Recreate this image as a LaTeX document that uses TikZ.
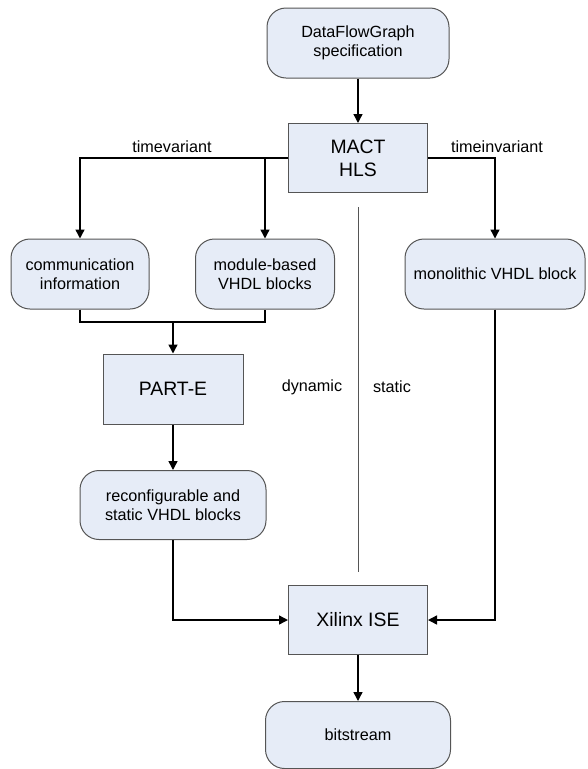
\documentclass[tikz,border=0pt]{standalone}
\usepackage{fontspec}
\setmainfont{Liberation Sans}
\usetikzlibrary{arrows.meta}
\definecolor{boxfill}{RGB}{230,236,247}
\definecolor{boxline}{RGB}{85,85,85}
\tikzset{
    flowline/.style={line width=1.4pt, black, -{Triangle[length=9pt,width=9pt]}},
    plainline/.style={line width=1.4pt, black},
    toolbox/.style={draw=boxline, line width=1pt, fill=boxfill, inner sep=0pt,
        minimum width=139pt, minimum height=69pt, align=center,
        font=\fontsize{19.4}{23}\selectfont},
    databox/.style={draw=boxline, line width=1pt, fill=boxfill, inner sep=0pt,
        rounded corners=19pt, minimum height=70pt, align=center,
        font=\fontsize{16.2}{19}\selectfont},
    flowlabel/.style={inner sep=0pt, font=\fontsize{16.2}{19}\selectfont}
}

\begin{document}
\begin{tikzpicture}[x=1pt,y=-1pt]
    % Fix the picture size
    \useasboundingbox (0,0) rectangle (587,769);

    % Draw the divider between dynamic and static part
    \draw[boxline, line width=0.9pt] (358,207) -- (358,572);

    % Data boxes (rounded)
    \node[databox, minimum width=182pt] (dfg) at (358,43) {DataFlowGraph\\specification};
    \node[databox, minimum width=138pt] (comm) at (80,274) {communication\\information};
    \node[databox, minimum width=139pt] (modb) at (265,274) {module-based\\VHDL blocks};
    \node[databox, minimum width=180pt] (mono) at (495,274) {monolithic VHDL block};
    \node[databox, minimum width=186pt, minimum height=69pt] (reconf) at (173,505) {reconfigurable and\\static VHDL blocks};
    \node[databox, minimum width=185pt, minimum height=67pt] (bits) at (358,735) {bitstream};

    % Tool boxes (square)
    \node[toolbox] (mact) at (358,158) {MACT\\HLS};
    \node[toolbox, minimum width=140pt, minimum height=70pt] (parte) at (173,389) {PART-E};
    \node[toolbox] (xil) at (358,620) {Xilinx ISE};

    % Labels
    \node[flowlabel] (tvar) at (172,147) {timevariant};
    \node[flowlabel] (tinv) at (497,147) {timeinvariant};
    \node[flowlabel] (dyn) at (312,387) {dynamic};
    \node[flowlabel] (stat) at (392,387) {static};

    % Connectors
    \coordinate (join) at (173,322);
    \draw[flowline] (dfg) -- (mact);
    \draw[flowline] (mact.west) -| (comm.north);
    \draw[flowline] (mact.west) -| (modb.north);
    \draw[flowline] (mact.east) -| (mono.north);
    \draw[plainline] (comm.south) |- (join) -| (modb.south);
    \draw[flowline] (join) -- (parte.north);
    \draw[flowline] (parte) -- (reconf);
    \draw[flowline] (reconf.south) |- (xil.west);
    \draw[flowline] (mono.south) |- (xil.east);
    \draw[flowline] (xil) -- (bits);
\end{tikzpicture}
\end{document}
